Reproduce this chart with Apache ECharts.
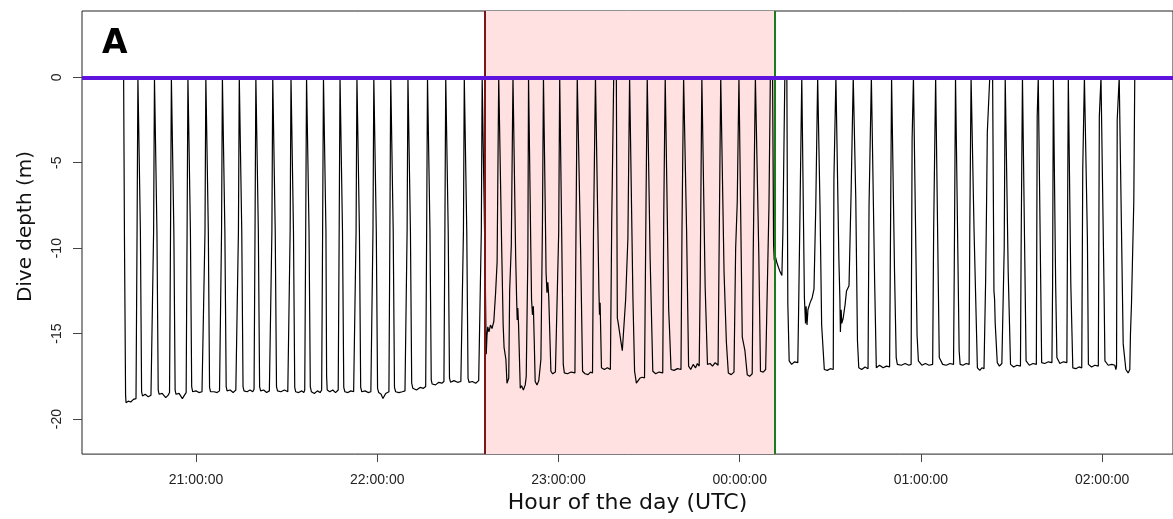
<!DOCTYPE html>
<html><head><meta charset="utf-8">
<script src="https://cdn.jsdelivr.net/npm/echarts@6/dist/echarts.min.js"></script>
<style>html,body{margin:0;padding:0;background:#fff}#c{width:1173px;height:519px}</style>
</head><body><div id="c"></div>
<script>
// x values: minutes after 20:00 UTC; y values: dive depth (m)
const hourTicks = [60, 120, 180, 240, 300, 360];
const hourLabels = ['21:00:00', '22:00:00', '23:00:00', '00:00:00', '01:00:00', '02:00:00'];
const depthTicks = [-20, -15, -10, -5, 0];
const shadeStart = 155.5;   // ~22:35:30
const shadeEnd = 251.55;    // ~00:11:33
const surfaceLevel = 0;

// dives before the shaded period
const profileBefore = [
 [36.05,0],[36.33,-9.5],[36.70,-18.6],[36.85,-19.05],[37.6,-18.95],[38.4,-19.0],[39.3,-18.85],[40.15,-18.8],[40.50,-9],[40.78,0],
 [41.32,0],[41.60,-9],[42.00,-18.4],[42.3,-18.65],[43.2,-18.55],[44.2,-18.7],[45.1,-18.6],[45.65,-18.5],[45.98,-9],[46.26,0],
 [46.80,0],[47.08,-9],[47.50,-18.3],[47.8,-18.55],[48.8,-18.5],[50.0,-18.75],[50.8,-18.6],[51.25,-18.45],[51.58,-9],[51.86,0],
 [52.40,0],[52.68,-9],[53.10,-18.3],[53.4,-18.55],[54.4,-18.5],[55.5,-18.8],[56.2,-18.6],[56.75,-18.45],[57.06,-9],[57.34,0],
 [57.88,0],[58.16,-9],[58.58,-18.1],[58.9,-18.4],[60.0,-18.35],[61.0,-18.45],[62.0,-18.4],[62.65,-18.3],[62.99,-9],[63.27,0],
 [63.81,0],[64.09,-9],[64.5,-18.15],[64.8,-18.4],[66.0,-18.4],[67.0,-18.45],[67.8,-18.35],[68.15,-18.3],[68.47,-9],[68.75,0],
 [69.29,0],[69.57,-9],[70.0,-18.1],[70.3,-18.35],[71.3,-18.3],[72.3,-18.45],[73.2,-18.3],[73.75,-18.2],[74.06,-9],[74.34,0],
 [74.88,0],[75.16,-9],[75.58,-18.1],[75.9,-18.35],[76.9,-18.4],[77.9,-18.3],[78.8,-18.4],[79.23,-18.25],[79.55,-9],[79.83,0],
 [80.37,0],[80.65,-9],[81.07,-18.1],[81.4,-18.35],[82.4,-18.3],[83.4,-18.45],[84.3,-18.35],[84.82,-18.25],[85.14,-9],[85.42,0],
 [85.96,0],[86.24,-9],[86.66,-18.1],[87.0,-18.35],[88.1,-18.4],[89.3,-18.3],[90.4,-18.4],[90.86,-18.3],[91.18,-9],[91.46,0],
 [92.00,0],[92.28,-9],[92.70,-18.15],[93.0,-18.4],[94.0,-18.45],[95.0,-18.35],[95.7,-18.45],[96.01,-18.3],[96.33,-9],[96.61,0],
 [97.15,0],[97.43,-9],[97.85,-18.1],[98.2,-18.4],[99.2,-18.5],[100.2,-18.35],[101.1,-18.45],[101.61,-18.3],[101.93,-9],[102.21,0],
 [102.75,0],[103.03,-9],[103.25,-17.5],[103.45,-18.3],[104.3,-18.4],[105.3,-18.3],[106.2,-18.45],[107.09,-18.3],[107.41,-9],[107.69,0],
 [108.23,0],[108.51,-9],[108.93,-18.15],[109.3,-18.4],[110.3,-18.45],[111.3,-18.35],[112.2,-18.4],[112.69,-18.3],[113.01,-9],[113.29,0],
 [113.83,0],[114.11,-9],[114.53,-18.15],[114.9,-18.4],[116.0,-18.35],[117.0,-18.45],[117.9,-18.4],[118.28,-18.3],[118.60,-9],[118.88,0],
 [119.42,0],[119.70,-9],[120.12,-18.2],[120.5,-18.45],[121.3,-18.55],[121.9,-18.8],[122.8,-18.5],[123.88,-18.4],[124.20,-9],[124.48,0],
 [125.02,0],[125.30,-9],[125.72,-18.15],[126.1,-18.4],[127.2,-18.45],[128.3,-18.4],[129.2,-18.35],[129.58,-18.25],[129.90,-9],[130.18,0],
 [130.72,0],[131.00,-9],[131.42,-17.9],[131.8,-18.2],[133.0,-18.3],[134.2,-18.15],[135.3,-18.2],[136.05,-18.1],[136.37,-9],[136.65,0],
 [137.19,0],[137.47,-9],[137.89,-17.7],[138.2,-17.95],[139.3,-18.0],[140.4,-17.85],[141.4,-17.9],[142.09,-17.8],[142.41,-9],[142.69,0],
 [143.23,0],[143.51,-9],[143.93,-17.6],[144.3,-17.85],[145.4,-17.75],[146.6,-17.85],[147.7,-17.8],[148.23,-17.7],[148.55,-9],[148.83,0],
 [149.37,0],[149.65,-9],[150.07,-17.6],[150.4,-17.85],[151.5,-17.8],[152.6,-17.9],[153.6,-17.75],[154.15,-17.7],[154.47,-9],[154.75,0]
];

// dives inside the shaded period
const profileShaded = [
 [155.2,0],[155.8,-12],[156.1,-16.2],[156.35,-15.1],[156.6,-14.6],[157.0,-14.9],[157.5,-14.5],[158.0,-14.7],[158.6,-14.3],[159.2,-12.6],[159.7,-10.8],[160.23,0],
 [160.78,0],[161.11,-9],[161.7,-14.5],[162.0,-15.8],[162.6,-16.5],[162.97,-17.9],[163.3,-17.85],[163.55,-17.6],[163.85,-12.5],[164.40,-9.8],[164.95,0],
 [165.50,0],[165.83,-10.4],[166.15,-12.9],[166.35,-14.2],[166.55,-13.5],[166.8,-14.5],[167.36,-18.2],[167.8,-18.05],[168.4,-18.3],[169.01,-18.0],[169.34,-17.5],[169.88,-10.4],[170.10,0],
 [170.43,0],[170.87,-10.2],[171.1,-13.0],[171.4,-13.9],[171.7,-13.4],[172.0,-15.5],[172.3,-17.8],[172.9,-18.0],[173.5,-17.75],[173.94,-17.8],[174.2,-16.5],[174.71,-8.5],[175.04,0],
 [175.37,0],[175.70,-8.5],[175.9,-11.4],[176.2,-12.6],[176.5,-12.0],[176.8,-12.9],[177.5,-17.2],[178.1,-17.35],[179.0,-17.25],[179.65,-17.3],[180.09,-9.05],[180.42,0],
 [180.75,0],[181.07,-9],[181.6,-16.8],[181.95,-17.3],[183.0,-17.35],[184.2,-17.25],[185.46,-17.3],[185.79,-9.5],[186.23,0],
 [186.89,0],[187.33,-10],[187.99,-17.2],[188.8,-17.35],[189.8,-17.4],[190.6,-17.25],[191.28,-17.3],[191.61,-9],[192.26,0],
 [192.92,0],[193.4,-12.5],[193.6,-13.9],[193.8,-13.2],[194.24,-17.0],[195.2,-17.1],[196.2,-17.0],[197.2,-17.1],[197.64,-8.5],[198.3,0],
 [199.17,0],[199.5,-14.1],[199.72,-14.3],[200.3,-15.0],[200.8,-15.6],[201.15,-16.0],[201.5,-15.9],[202.25,-13.0],[203.0,-9.4],[203.56,0],
 [204.11,0],[204.66,-12.9],[205.21,-17.2],[205.8,-17.9],[206.3,-17.85],[207.0,-17.6],[207.8,-17.55],[208.5,-17.6],[209.0,-7.3],[209.4,0],
 [209.92,0],[210.36,-10.6],[211.24,-17.2],[212.2,-17.35],[213.3,-17.25],[214.53,-17.3],[214.86,-8.2],[215.35,0],
 [215.96,0],[216.5,-13.6],[216.7,-14.4],[217.28,-17.1],[218.3,-17.15],[219.4,-17.05],[220.57,-17.1],[220.9,-9],[221.44,0],
 [222.0,0],[222.43,-9],[223.09,-16.9],[223.8,-17.1],[224.6,-16.8],[225.4,-17.0],[226.0,-16.75],[226.6,-16.9],[226.93,-12],[227.48,0],
 [228.03,0],[228.58,-12.3],[229.34,-16.8],[230.2,-16.75],[231.0,-16.9],[231.9,-16.7],[232.85,-16.85],[233.2,-10],[233.73,0],
 [234.28,0],[234.83,-11.4],[235.6,-15.5],[236.25,-17.3],[237.2,-17.4],[238.12,-17.25],[238.67,-10],[239.2,-7.3],[239.76,0],
 [240.31,0],[240.86,-15.2],[241.3,-15.6],[241.74,-16.0],[242.5,-17.4],[243.3,-17.5],[244.15,-17.35],[244.48,-10.4],[245.2,0],
 [245.8,0],[246.34,-10.4],[246.89,-17.2],[247.8,-17.25],[248.6,-17.1],[249.09,-17.2],[249.7,-7.5],[250.15,0]
];

// dives after the shaded period
const profileAfter = [
 [250.9,0],[251.23,-9.8],[251.45,-10.7],[251.7,-10.4],[252.4,-10.9],[253.2,-11.3],[253.98,-11.6],[254.3,-9.1],[254.95,0],
 [255.62,0],[255.95,-13.3],[256.39,-16.6],[257.2,-16.8],[258.2,-16.65],[259.24,-16.7],[259.46,-14.3],[260.0,-7.5],[260.56,0],
 [261.11,0],[261.43,-12.9],[261.8,-14.4],[262.0,-13.4],[262.3,-14.5],[262.6,-13.6],[263.3,-13.2],[264.0,-12.9],[264.6,-12.4],[264.95,-12.3],[265.2,-7.5],[265.82,0],
 [266.26,0],[266.59,-7.5],[267.14,-14.5],[268.02,-17.1],[269.0,-17.15],[270.0,-17.05],[270.98,-17.1],[271.2,-6],[271.86,0],
 [272.4,0],[272.84,-10.6],[273.17,-12.9],[273.35,-14.9],[273.6,-13.6],[273.8,-14.4],[274.27,-14.1],[274.9,-13.3],[275.37,-12.5],[276.2,-12.2],[276.9,-6.7],[277.6,0],
 [278.11,0],[278.44,-7.1],[278.99,-15.4],[279.43,-17.0],[280.4,-17.1],[281.5,-16.95],[282.5,-17.05],[282.83,-7.5],[283.6,0],
 [284.14,0],[284.69,-12],[285.24,-17.0],[286.3,-16.85],[287.5,-17.0],[288.6,-16.9],[289.63,-16.95],[289.85,-11.4],[290.29,0],
 [290.72,0],[291.27,-11.4],[291.82,-16.4],[292.2,-16.8],[293.5,-16.85],[294.8,-16.75],[296.0,-16.85],[296.76,-16.8],[297.09,-3.6],[297.53,0],
 [298.07,0],[298.73,-15.1],[299.17,-16.6],[300.3,-16.85],[301.5,-16.75],[302.7,-16.85],[303.89,-16.8],[304.22,-9],[304.88,0],
 [305.31,0],[305.75,-12],[306.08,-16.4],[307.2,-16.8],[308.4,-16.85],[309.6,-16.75],[310.8,-16.8],[311.02,-11.8],[311.46,0],
 [311.9,0],[312.66,-16.0],[312.99,-16.8],[313.9,-16.85],[315.0,-16.75],[315.96,-16.8],[316.18,-9],[316.61,0],
 [317.05,0],[317.6,-9],[318.7,-17.0],[319.5,-17.15],[320.2,-17.0],[320.89,-17.05],[321.44,-11.8],[321.7,-8],[321.99,-3.2],[322.8,0],
 [323.74,0],[324.18,-12.5],[324.4,-13.0],[324.6,-14.4],[325.28,-16.7],[326.0,-16.9],[326.8,-16.75],[327.3,-16.85],[327.58,-10],[327.91,0],
 [328.35,0],[328.9,-11.4],[329.67,-16.8],[330.7,-16.95],[331.8,-16.85],[332.96,-16.9],[333.18,-10],[333.62,0],
 [334.06,0],[334.39,-10.6],[334.82,-16.6],[335.9,-16.85],[337.1,-16.75],[338.22,-16.8],[338.5,-2.3],[338.85,0],
 [339.32,0],[339.65,-11.8],[339.98,-16.7],[341.0,-16.75],[342.2,-16.65],[343.38,-16.7],[343.6,-12.1],[343.85,0],
 [344.1,0],[344.6,-12],[345.02,-16.4],[346.0,-16.75],[347.2,-16.65],[348.32,-16.7],[348.54,-9],[348.8,0],
 [349.0,0],[349.63,-12.1],[350.29,-17.0],[351.3,-17.05],[352.3,-16.95],[353.25,-17.0],[353.58,-5.4],[354.13,0],
 [354.6,0],[355.12,-9.4],[355.45,-16.8],[356.5,-16.95],[357.6,-16.85],[358.74,-16.9],[359.07,-2.3],[359.62,0],
 [360.1,0],[360.6,-12],[360.93,-16.6],[362.0,-16.85],[363.2,-16.8],[364.2,-16.85],[364.55,-17.1],[364.77,-16.9],[364.99,-2.5],[365.65,0],
 [366.09,0],[366.97,-15.6],[367.85,-17.1],[368.3,-17.05],[368.61,-17.3],[369.16,-17.1],[369.38,-15.0],[369.71,-13.3],[370.48,-7.3],[370.8,0]
];

const profile = profileBefore.concat(profileShaded, profileAfter);

const chart = echarts.init(document.getElementById('c'), null, {renderer: 'canvas'});
chart.setOption({
  animation: false,
  grid: {left: 82, top: 11, width: 1098, height: 446, show: true, borderColor: '#222', borderWidth: 1, backgroundColor: 'transparent'},
  xAxis: {
    type: 'value', min: 22.27, max: 383.46,
    axisLine: {show: false, onZero: false}, splitLine: {show: false},
    axisTick: {show: true, customValues: hourTicks, length: 8, lineStyle: {color: '#444'}},
    axisLabel: {customValues: hourTicks, formatter: v => hourLabels[hourTicks.indexOf(v)], margin: 19,
      fontFamily: 'Liberation Sans', fontSize: 14, color: '#222'},
    name: 'Hour of the day (UTC)', nameLocation: 'middle', nameGap: 34,
    nameTextStyle: {fontFamily: 'DejaVu Sans', fontSize: 22, color: '#111'}
  },
  yAxis: {
    type: 'value', min: -22.05, max: 3.88,
    axisLine: {show: false, onZero: false}, splitLine: {show: false},
    axisTick: {show: true, customValues: depthTicks, length: 9, lineStyle: {color: '#444'}},
    axisLabel: {customValues: depthTicks, rotate: 90, margin: 18,
      fontFamily: 'Liberation Sans', fontSize: 14, color: '#222'},
    name: 'Dive depth (m)', nameLocation: 'middle', nameGap: 46,
    nameTextStyle: {fontFamily: 'DejaVu Sans', fontSize: 20, color: '#111', padding: [0, 0, 0, 12]}
  },
  graphic: [{
    type: 'text', left: 102, top: 28, z: 100,
    style: {text: 'A', font: 'bold 33px "DejaVu Sans"', fill: '#000'}
  }],
  series: [
    {
      type: 'line', data: [], z: 1, silent: true,
      markArea: {silent: true, itemStyle: {color: '#ffe1e1'}, data: [[{xAxis: shadeStart}, {xAxis: shadeEnd}]]}
    },
    {
      type: 'line', data: profile, z: 3, showSymbol: false, silent: true,
      lineStyle: {color: '#000', width: 1.2}
    },
    {
      type: 'line', data: [], z: 5, silent: true,
      markLine: {silent: true, symbol: 'none', label: {show: false}, data: [
        {xAxis: shadeStart, lineStyle: {color: '#7b1616', width: 2, type: 'solid'}},
        {xAxis: shadeEnd, lineStyle: {color: '#1e7a1e', width: 2, type: 'solid'}},
        {yAxis: surfaceLevel, lineStyle: {color: '#5f13de', width: 4, type: 'solid'}}
      ]}
    }
  ]
});
</script></body></html>
